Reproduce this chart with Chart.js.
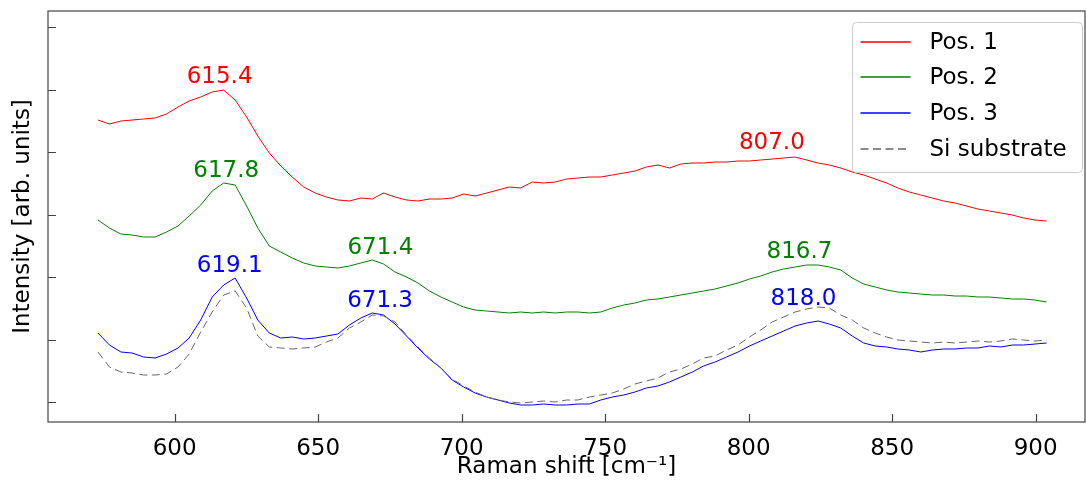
<!DOCTYPE html>
<html>
<head>
<meta charset="utf-8">
<script src="https://cdn.jsdelivr.net/npm/chart.js@4"></script>
<style>
  html, body { margin: 0; padding: 0; background: #fff; }
  #wrap { width: 1086px; height: 482px; }
</style>
</head>
<body>
<div id="wrap"><canvas id="ramanChart"></canvas></div>
<script>
// Raman shift grid [cm^-1] shared by all spectra
const shift = [
  573.3, 577.3, 581.3, 585.2, 589.2, 593.2, 597.2, 601.2, 605.1, 609.1,
  613.1, 617.1, 621.1, 625.1, 629.0, 633.0, 637.0, 641.0, 645.0, 649.0,
  652.9, 656.9, 660.9, 664.9, 668.9, 672.8, 676.8, 680.8, 684.8, 688.8,
  692.8, 696.7, 700.7, 704.7, 708.7, 712.7, 716.6, 720.6, 724.6, 728.6,
  732.6, 736.6, 740.5, 744.5, 748.5, 752.5, 756.5, 760.4, 764.4, 768.4,
  772.4, 776.4, 780.4, 784.3, 788.3, 792.3, 796.3, 800.3, 804.2, 808.2,
  812.2, 816.2, 820.2, 824.2, 828.1, 832.1, 836.1, 840.1, 844.1, 848.1,
  852.0, 856.0, 860.0, 864.0, 868.0, 871.9, 875.9, 879.9, 883.9, 887.9,
  891.9, 895.8, 899.8, 903.8
];

// intensities (arb. units, offset per position)
const pos1 = [
  4512, 4448, 4496, 4512, 4528, 4544, 4608, 4720, 4816, 4880,
  4960, 4992, 4832, 4560, 4256, 3984, 3776, 3600, 3440, 3344,
  3280, 3232, 3216, 3264, 3248, 3344, 3280, 3232, 3216, 3248,
  3248, 3264, 3328, 3296, 3344, 3392, 3440, 3424, 3520, 3504,
  3520, 3568, 3584, 3600, 3600, 3632, 3664, 3696, 3760, 3792,
  3744, 3808, 3824, 3824, 3840, 3840, 3856, 3856, 3872, 3888,
  3904, 3920, 3872, 3824, 3792, 3744, 3680, 3632, 3568, 3504,
  3424, 3360, 3312, 3264, 3216, 3184, 3136, 3088, 3056, 3024,
  2992, 2944, 2912, 2896
];
const pos2 = [
  2912, 2784, 2688, 2672, 2640, 2640, 2720, 2816, 2976, 3152,
  3376, 3504, 3472, 3136, 2784, 2496, 2400, 2304, 2224, 2176,
  2160, 2144, 2176, 2224, 2272, 2208, 2080, 2000, 1904, 1776,
  1680, 1600, 1520, 1472, 1456, 1440, 1424, 1440, 1424, 1440,
  1424, 1440, 1440, 1424, 1440, 1504, 1552, 1584, 1632, 1648,
  1680, 1712, 1744, 1776, 1808, 1856, 1904, 1968, 2016, 2080,
  2128, 2160, 2192, 2192, 2160, 2112, 1984, 1888, 1840, 1792,
  1760, 1744, 1728, 1712, 1712, 1696, 1696, 1680, 1680, 1664,
  1648, 1648, 1632, 1600
];
const pos3 = [
  1104, 912, 800, 784, 720, 704, 768, 864, 1024, 1312,
  1680, 1872, 1984, 1664, 1312, 1104, 1024, 1040, 1008, 1024,
  1056, 1088, 1232, 1344, 1424, 1392, 1248, 1056, 864, 688,
  544, 352, 240, 144, 80, 32, -16, -48, -48, -32,
  -48, -48, -32, -32, 32, 80, 112, 160, 224, 256,
  320, 400, 480, 576, 640, 720, 800, 896, 976, 1056,
  1136, 1216, 1264, 1296, 1248, 1184, 1056, 944, 896, 880,
  848, 832, 800, 832, 848, 848, 864, 864, 896, 880,
  912, 912, 928, 944
];
const siSubstrate = [
  800, 560, 480, 464, 432, 432, 448, 560, 768, 1120,
  1440, 1712, 1776, 1504, 1056, 880, 864, 848, 864, 880,
  960, 1024, 1184, 1280, 1392, 1376, 1280, 1072, 880, 704,
  544, 368, 256, 160, 80, 32, 0, -16, 0, 16,
  0, 32, 32, 80, 112, 144, 208, 288, 336, 384,
  480, 528, 608, 704, 736, 832, 912, 1040, 1152, 1280,
  1360, 1440, 1488, 1520, 1504, 1392, 1312, 1184, 1104, 1040,
  992, 976, 960, 944, 960, 944, 960, 976, 960, 976,
  1008, 992, 976, 992
];

const seriesNames = ['Pos. 1', 'Pos. 2', 'Pos. 3', 'Si substrate'];
const seriesColors = ['#ff0000', '#008000', '#0000ff', '#666666'];

// peak annotations: text, anchor shift (text centre), anchor intensity (text baseline)
const peakText = ['615.4', '617.8', '619.1', '671.4', '671.3', '807.0', '816.7', '818.0'];
const peakX = [615.7, 618.0, 619.2, 671.7, 671.6, 808.1, 817.7, 819.1];
const peakY = [5104, 3600, 2085, 2368, 1525, 4048, 2304, 1552];
const peakColors = ['#ff0000', '#008000', '#0000ff', '#008000', '#0000ff', '#ff0000', '#008000', '#0000ff'];

const xTicks = [600, 650, 700, 750, 800, 850, 900];
const yTicks = [0, 1000, 2000, 3000, 4000, 5000, 6000];

const FONT = 'DejaVu Sans';

function toPoints(ys) {
  return shift.map((x, i) => ({ x: x, y: ys[i] }));
}

// frame + inward ticks, drawn over the data like matplotlib spines
const framePlugin = {
  id: 'frame',
  afterDatasetsDraw(chart) {
    const { ctx, chartArea: a, scales } = chart;
    ctx.save();
    ctx.strokeStyle = '#444';
    ctx.lineWidth = 1.2;
    ctx.strokeRect(a.left, a.top, a.right - a.left, a.bottom - a.top);
    ctx.beginPath();
    xTicks.forEach(v => {
      const px = Math.round(scales.x.getPixelForValue(v)) + 0.5;
      ctx.moveTo(px, a.bottom);
      ctx.lineTo(px, a.bottom - 8);
    });
    yTicks.forEach(v => {
      const py = Math.round(scales.y.getPixelForValue(v)) + 0.5;
      ctx.moveTo(a.left, py);
      ctx.lineTo(a.left + 8, py);
    });
    ctx.stroke();
    ctx.restore();
  }
};

const peakLabelPlugin = {
  id: 'peakLabels',
  afterDatasetsDraw(chart) {
    const { ctx, scales } = chart;
    ctx.save();
    ctx.font = `23px "${FONT}"`;
    ctx.textAlign = 'center';
    ctx.textBaseline = 'alphabetic';
    peakText.forEach((t, i) => {
      ctx.fillStyle = peakColors[i];
      ctx.fillText(t, scales.x.getPixelForValue(peakX[i]), scales.y.getPixelForValue(peakY[i]));
    });
    ctx.restore();
  }
};

// legend box in the upper right corner of the axes
const legendPlugin = {
  id: 'boxLegend',
  afterDraw(chart) {
    const { ctx, chartArea: a } = chart;
    const left = Math.round(a.right - 233) + 0.5, top = Math.round(a.top + 11) + 0.5;
    const w = 230, h = 150, r = 4;
    ctx.save();
    ctx.beginPath();
    ctx.roundRect(left, top, w, h, r);
    ctx.fillStyle = 'rgba(255,255,255,0.8)';
    ctx.fill();
    ctx.strokeStyle = '#cccccc';
    ctx.lineWidth = 1;
    ctx.stroke();
    ctx.font = `23px "${FONT}"`;
    ctx.textBaseline = 'middle';
    ctx.textAlign = 'left';
    seriesNames.forEach((name, i) => {
      const y = Math.round(top + 19 + i * 35.8);
      ctx.fillStyle = seriesColors[i];
      if (i === 3) {
        for (let x = left + 8; x < left + 58; x += 12.5) {
          ctx.fillRect(x, y - 0.75, 8, 1.5);
        }
      } else {
        ctx.fillRect(left + 8, y - 0.75, 50, 1.5);
      }
      ctx.fillStyle = '#000';
      ctx.fillText(name, left + 77, y + 1);
    });
    ctx.restore();
  }
};

const ctx = document.getElementById('ramanChart').getContext('2d');
new Chart(ctx, {
  type: 'line',
  data: {
    datasets: [pos1, pos2, pos3, siSubstrate].map((ys, i) => ({
      label: seriesNames[i],
      data: toPoints(ys),
      borderColor: seriesColors[i],
      borderWidth: 1,
      borderDash: i === 3 ? [8, 4.5] : [],
      pointRadius: 0,
      tension: 0,
      fill: false,
      order: 3 - i
    }))
  },
  options: {
    responsive: true,
    maintainAspectRatio: false,
    animation: false,
    layout: { padding: { top: 11, right: 1, left: 0, bottom: 0 } },
    plugins: {
      legend: { display: false },
      tooltip: { enabled: false }
    },
    scales: {
      x: {
        type: 'linear',
        min: 555.9,
        max: 917.2,
        afterFit: (scale) => { scale.height = 60; },
        afterBuildTicks: (scale) => { scale.ticks = xTicks.map(v => ({ value: v })); },
        grid: { display: false },
        border: { display: false },
        ticks: {
          color: '#000',
          padding: 5,
          font: { family: FONT, size: 23 },
          callback: (v) => String(v)
        },
        title: {
          display: true,
          text: 'Raman shift [cm\u207B\u00B9]',
          color: '#000',
          font: { family: FONT, size: 23 },
          padding: { top: 0, bottom: 1 }
        }
      },
      y: {
        type: 'linear',
        min: -320,
        max: 6256,
        afterFit: (scale) => { scale.width = 48; },
        grid: { display: false },
        border: { display: false },
        ticks: { display: false },
        title: {
          display: true,
          text: 'Intensity [arb. units]',
          color: '#000',
          font: { family: FONT, size: 23 },
          padding: { top: 9, bottom: 0 }
        }
      }
    }
  },
  plugins: [framePlugin, peakLabelPlugin, legendPlugin]
});
</script>
</body>
</html>
